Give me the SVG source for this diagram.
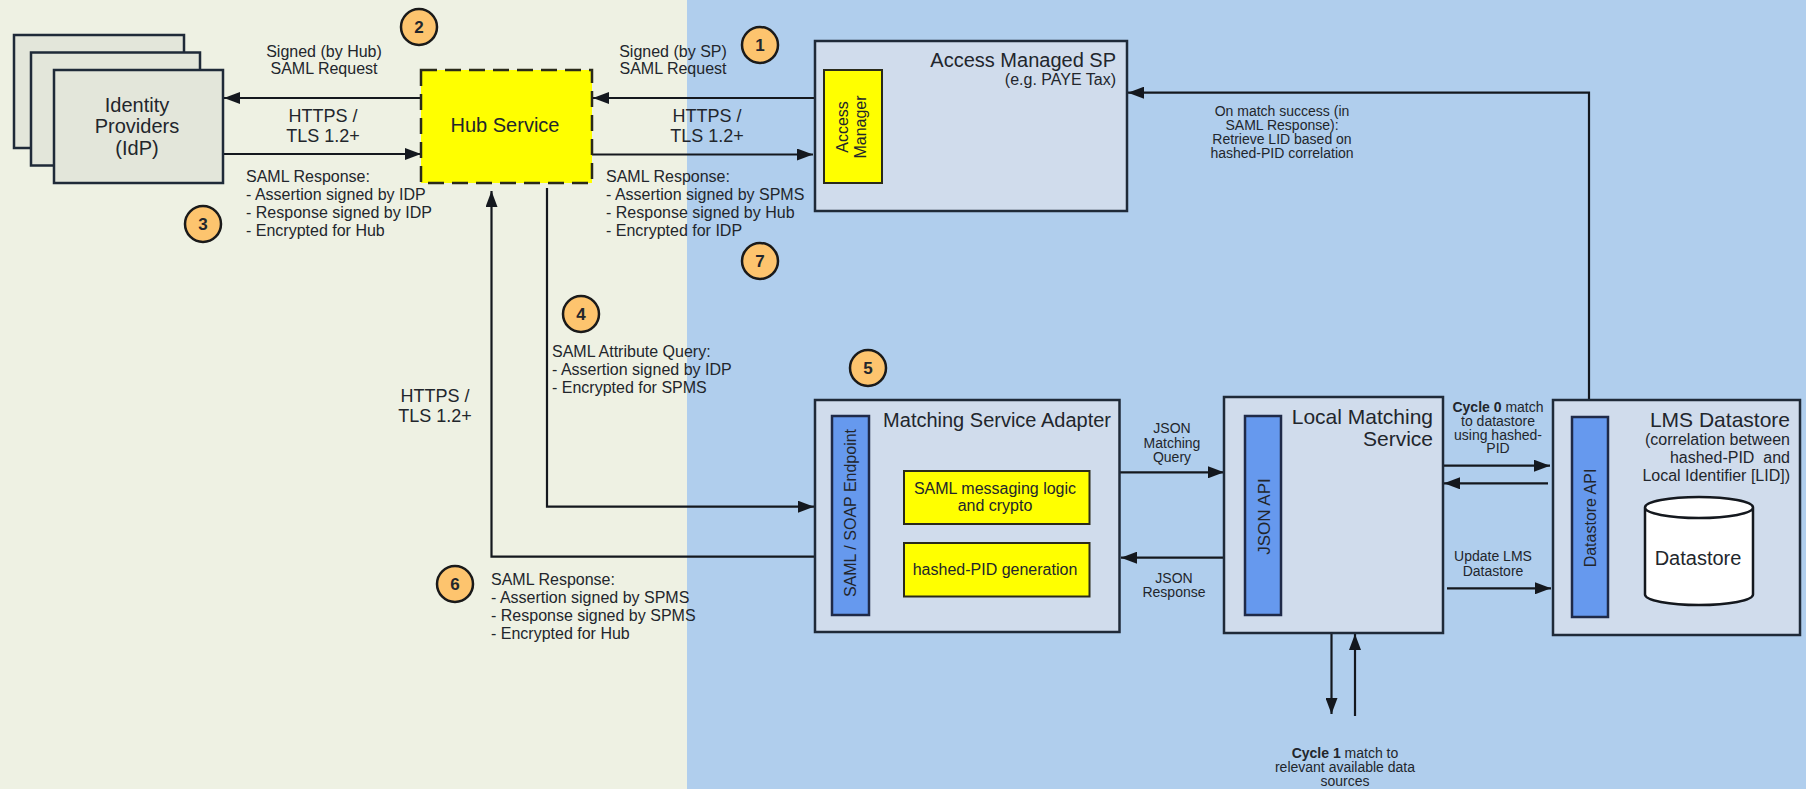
<svg xmlns="http://www.w3.org/2000/svg" width="1806" height="789" viewBox="0 0 1806 789">
<style>
text{font-family:"Liberation Sans",Arial,sans-serif;fill:#22262c}
.box{fill:#d0dcec;stroke:#1f2a38;stroke-width:2.5}
.idp{fill:#e3e6da;stroke:#1f2a38;stroke-width:2.5}
.yel{fill:#ffff00;stroke:#2a2a1a;stroke-width:2}
.blue{fill:#6699ee;stroke:#1f2a48;stroke-width:2.5}
.badge{fill:#fdc46e;stroke:#1a1a1a;stroke-width:2.5}
.num{font-size:17px;font-weight:bold;text-anchor:middle}
.conn{fill:none;stroke:#14181e;stroke-width:2.2}
.a{marker-end:url(#arrow)}
.s{font-size:16px}
.m{font-size:16px;text-anchor:middle}
.h{font-size:18px;text-anchor:middle}
.n{font-size:20px;text-anchor:middle}
.t{font-size:14px;text-anchor:middle}
.r20{font-size:20px;text-anchor:end}
.r21{font-size:21px;text-anchor:end}
.r15{font-size:16px;text-anchor:end;white-space:pre}
.v{font-size:16px;text-anchor:middle}
</style>
<defs>
<marker id="arrow" markerUnits="userSpaceOnUse" markerWidth="16" markerHeight="12" refX="16" refY="6" orient="auto"><path d="M0,0L16,6L0,12Z" fill="#14181e"/></marker>
</defs>
<rect id="bg-left" x="0" y="0" width="688" height="789" fill="#eef1e3"/>
<rect id="bg-right" x="687" y="0" width="1119" height="789" fill="#b0ceed"/>

<g id="connectors">
<path class="conn a" d="M421,98H224"/>
<path class="conn a" d="M223,154H421"/>
<path class="conn a" d="M815,98H593"/>
<path class="conn a" d="M592,154.500H813"/>
<path class="conn a" d="M1589,400V92.700H1128"/>
<path class="conn a" d="M547,188V506.700H814"/>
<path class="conn a" d="M815,556.700H491.500V191"/>
<path class="conn a" d="M1120,472.300H1224"/>
<path class="conn a" d="M1224,557.700H1121"/>
<path class="conn a" d="M1444,465.700H1550"/>
<path class="conn a" d="M1548,483.300H1444"/>
<path class="conn a" d="M1447,588.300H1551"/>
<path class="conn a" d="M1331.500,633V714"/>
<path class="conn a" d="M1355,716V634"/>
</g>

<g id="idp">
<rect class="idp" x="14" y="35" width="170" height="113"/>
<rect class="idp" x="31" y="52.500" width="169" height="113"/>
<rect class="idp" x="54" y="70" width="169" height="113"/>
<text class="n" x="137" y="112">Identity</text>
<text class="n" x="137" y="133">Providers</text>
<text class="n" x="137" y="155">(IdP)</text>
</g>

<g id="hub">
<rect x="421" y="70" width="171" height="113" fill="#ffff00" stroke="#2a2a1a" stroke-width="2.5" stroke-dasharray="16 8"/>
<text class="n" x="505" y="132">Hub Service</text>
</g>

<g id="sp">
<rect class="box" x="815" y="41" width="312" height="170"/>
<text class="r20" x="1116" y="67">Access Managed SP</text>
<text class="r15" x="1116" y="85">(e.g. PAYE Tax)</text>
</g>
<g id="access-manager">
<rect class="yel" x="824" y="70" width="58" height="113"/>
<text class="v" transform="translate(848,127) rotate(-90)">Access</text>
<text class="v" transform="translate(866,127) rotate(-90)">Manager</text>
</g>

<g id="msa">
<rect class="box" x="815" y="400" width="304.500" height="232"/>
<text class="r20" x="1111" y="427">Matching Service Adapter</text>
</g>
<g id="soap-endpoint">
<rect class="blue" x="832" y="416" width="37" height="199"/>
<text class="v" transform="translate(856,513) rotate(-90)">SAML / SOAP Endpoint</text>
</g>
<g id="saml-logic">
<rect class="yel" x="904" y="471" width="185.500" height="53"/>
<text class="m" x="995" y="494">SAML messaging logic</text>
<text class="m" x="995" y="511">and crypto</text>
</g>
<g id="pid-gen">
<rect class="yel" x="904" y="543" width="185.500" height="53.500"/>
<text class="m" x="995" y="575">hashed-PID generation</text>
</g>

<g id="lms">
<rect class="box" x="1224" y="397" width="219" height="236"/>
<text class="r21" x="1433" y="424">Local Matching</text>
<text class="r21" x="1433" y="446">Service</text>
</g>
<g id="json-api">
<rect class="blue" x="1245" y="416" width="36" height="199"/>
<text class="v" style="font-size:17px" transform="translate(1269.500,516.500) rotate(-90)">JSON API</text>
</g>

<g id="lms-datastore">
<rect class="box" x="1553" y="400" width="247" height="235"/>
<text class="r21" x="1790" y="427">LMS Datastore</text>
<text class="r15" x="1790" y="445">(correlation between</text>
<text class="r15" x="1790" y="463">hashed-PID  and</text>
<text class="r15" x="1790" y="481">Local Identifier [LID])</text>
</g>
<g id="datastore-api">
<rect class="blue" x="1572" y="417" width="36" height="200"/>
<text class="v" transform="translate(1596,518) rotate(-90)">Datastore API</text>
</g>
<g id="datastore">
<path d="M1645,507.500V594.500A54,10.500 0 0 0 1753,594.500V507.500A54,10.500 0 0 0 1645,507.500A54,10.500 0 0 0 1753,507.500" fill="#fff" stroke="#14181e" stroke-width="2.5"/>
<text class="n" x="1698" y="565">Datastore</text>
</g>

<g id="badge-1"><circle class="badge" cx="760" cy="45" r="18"/><text class="num" x="760" y="51">1</text></g>
<g id="badge-2"><circle class="badge" cx="419" cy="27" r="18"/><text class="num" x="419" y="33">2</text></g>
<g id="badge-3"><circle class="badge" cx="203" cy="224" r="18"/><text class="num" x="203" y="230">3</text></g>
<g id="badge-4"><circle class="badge" cx="581" cy="314" r="18"/><text class="num" x="581" y="320">4</text></g>
<g id="badge-5"><circle class="badge" cx="868" cy="368" r="18"/><text class="num" x="868" y="374">5</text></g>
<g id="badge-6"><circle class="badge" cx="455" cy="584" r="18"/><text class="num" x="455" y="590">6</text></g>
<g id="badge-7"><circle class="badge" cx="760" cy="261" r="18"/><text class="num" x="760" y="267">7</text></g>

<g id="labels">
<text class="m" x="324" y="57">Signed (by Hub)</text>
<text class="m" x="324" y="74">SAML Request</text>
<text class="h" x="323" y="122">HTTPS /</text>
<text class="h" x="323" y="142">TLS 1.2+</text>
<text class="s" x="246" y="182">SAML Response:</text>
<text class="s" x="246" y="200">- Assertion signed by IDP</text>
<text class="s" x="246" y="218">- Response signed by IDP</text>
<text class="s" x="246" y="236">- Encrypted for Hub</text>
<text class="m" x="673" y="57">Signed (by SP)</text>
<text class="m" x="673" y="74">SAML Request</text>
<text class="h" x="707" y="122">HTTPS /</text>
<text class="h" x="707" y="142">TLS 1.2+</text>
<text class="s" x="606" y="182">SAML Response:</text>
<text class="s" x="606" y="200">- Assertion signed by SPMS</text>
<text class="s" x="606" y="218">- Response signed by Hub</text>
<text class="s" x="606" y="236">- Encrypted for IDP</text>
<text class="s" x="552" y="357">SAML Attribute Query:</text>
<text class="s" x="552" y="375">- Assertion signed by IDP</text>
<text class="s" x="552" y="393">- Encrypted for SPMS</text>
<text class="h" x="435" y="402">HTTPS /</text>
<text class="h" x="435" y="422">TLS 1.2+</text>
<text class="s" x="491" y="585">SAML Response:</text>
<text class="s" x="491" y="603">- Assertion signed by SPMS</text>
<text class="s" x="491" y="621">- Response signed by SPMS</text>
<text class="s" x="491" y="639">- Encrypted for Hub</text>
<text class="t" x="1282" y="116">On match success (in</text>
<text class="t" x="1282" y="130">SAML Response):</text>
<text class="t" x="1282" y="144">Retrieve LID based on</text>
<text class="t" x="1282" y="158">hashed-PID correlation</text>
<text class="t" x="1172" y="433">JSON</text>
<text class="t" x="1172" y="448">Matching</text>
<text class="t" x="1172" y="462">Query</text>
<text class="t" x="1174" y="583">JSON</text>
<text class="t" x="1174" y="597">Response</text>
<text class="t" x="1498" y="412"><tspan font-weight="bold">Cycle 0</tspan> match</text>
<text class="t" x="1498" y="426">to datastore</text>
<text class="t" x="1498" y="440">using hashed-</text>
<text class="t" x="1498" y="453">PID</text>
<text class="t" x="1493" y="561">Update LMS</text>
<text class="t" x="1493" y="576">Datastore</text>
<text class="t" x="1345" y="758"><tspan font-weight="bold">Cycle 1</tspan> match to</text>
<text class="t" x="1345" y="772">relevant available data</text>
<text class="t" x="1345" y="786">sources</text>
</g>
</svg>
